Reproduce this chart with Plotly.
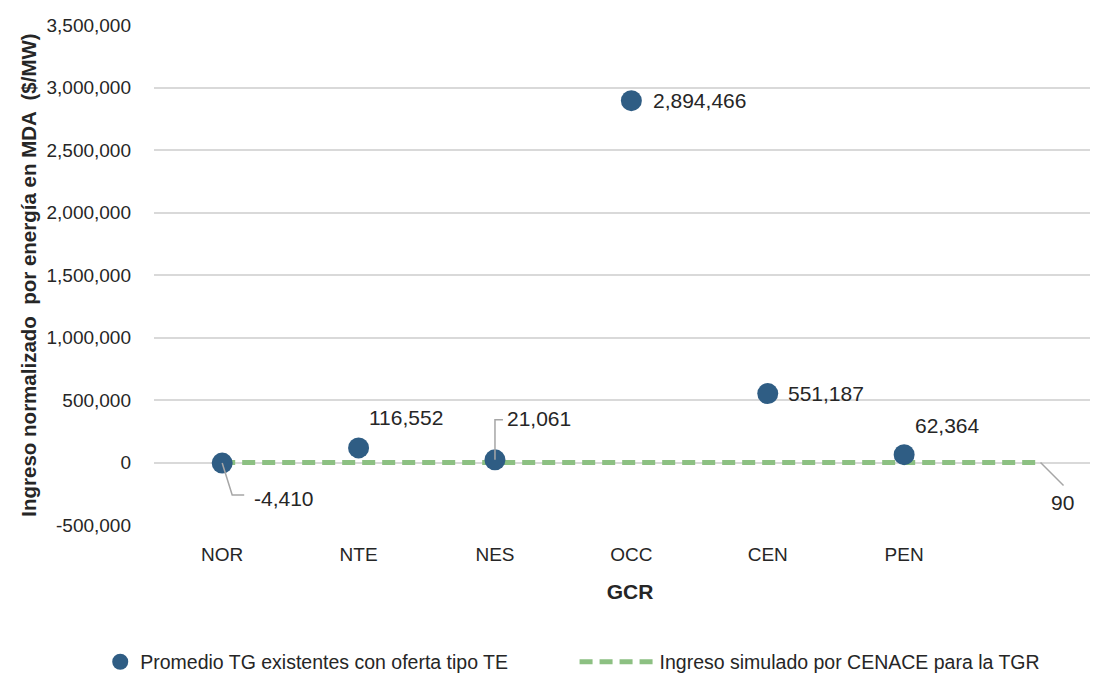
import plotly.graph_objects as go

categorias = ["NOR", "NTE", "NES", "OCC", "CEN", "PEN"]
promedio_tg = [-4410, 116552, 21061, 2894466, 551187, 62364]
ingreso_tgr = 90
y_ticks = [-500000, 0, 500000, 1000000, 1500000, 2000000, 2500000, 3000000, 3500000]

FONT = "Liberation Sans, Arial, sans-serif"
TXT = "#262626"
GRIS = "#a6a6a6"

x_pos = list(range(len(categorias)))
linea_x = [0, len(categorias)]
linea_y = [ingreso_tgr, ingreso_tgr]

fig = go.Figure()

fig.add_trace(go.Scatter(
    x=linea_x, y=linea_y, mode="lines",
    line=dict(color="#8cc082", width=5, dash="13px,7px"),
    name="Ingreso simulado por CENACE para la TGR", legend="legend2",
))
fig.add_trace(go.Scatter(
    x=x_pos, y=promedio_tg, mode="markers",
    marker=dict(color="#2f5d84", size=21),
    name="Promedio TG existentes con oferta tipo TE", legend="legend",
))

# etiquetas de datos: (xshift, yshift, lineas guia en pixeles)
etiquetas = [
    (30, -35, "M0,0 L10,-32 L22,-32"),
    (47, 30, None),
    (10, 41, "M0,0 L0,40 L8,40"),
    (20, 0, None),
    (18, 0, None),
    (43, 29, None),
]
for i, (v, (dx, dy, guia)) in enumerate(zip(promedio_tg, etiquetas)):
    left = guia is not None or dy == 0
    fig.add_annotation(x=i, y=v, text=f"{v:,}", showarrow=False,
                       xshift=dx, yshift=dy, xanchor="left" if left else "center",
                       font=dict(size=21, color=TXT, family=FONT))
    if guia:
        fig.add_shape(type="path", path=guia, xref="x", yref="y",
                      xsizemode="pixel", ysizemode="pixel", xanchor=i, yanchor=v,
                      line=dict(color=GRIS, width=1.5), layer="above")

fig.add_annotation(x=linea_x[1], y=ingreso_tgr, text=f"{ingreso_tgr:,}", showarrow=False,
                   xshift=22, yshift=-40, font=dict(size=21, color=TXT, family=FONT))
fig.add_shape(type="path", path="M0,0 L23,-23", xref="x", yref="y",
              xsizemode="pixel", ysizemode="pixel", xanchor=linea_x[1], yanchor=ingreso_tgr,
              line=dict(color=GRIS, width=1.5), layer="above")

fig.update_layout(
    width=1098, height=675,
    margin=dict(l=146, r=0, t=17, b=158),
    plot_bgcolor="white", paper_bgcolor="white",
    font=dict(family=FONT, size=19, color=TXT),
    showlegend=True,
    legend=dict(orientation="h", xref="container", x=0.084, xanchor="left",
                yref="container", y=0.031, yanchor="middle",
                font=dict(size=19.5, color=TXT)),
    legend2=dict(orientation="h", xref="container", x=0.516, xanchor="left",
                 yref="container", y=0.031, yanchor="middle", itemwidth=75,
                 font=dict(size=19.5, color=TXT)),
)
fig.update_xaxes(
    range=[-0.5, 6.48], tickvals=x_pos, ticktext=categorias,
    showgrid=False, zeroline=False, showline=False, ticks="",
    ticklabelstandoff=16, automargin=False,
    tickfont=dict(size=19, color=TXT),
    title=dict(text="<b>GCR</b>", font=dict(size=21, color=TXT), standoff=20),
)
fig.update_yaxes(
    range=[-500000, 3500000], tickvals=y_ticks,
    ticktext=[f"{v:,}" for v in y_ticks],
    showgrid=True, gridcolor="#d9d9d9", gridwidth=1.5,
    zeroline=True, zerolinecolor="#d9d9d9", zerolinewidth=1.5,
    ticks="", ticklabelstandoff=22, automargin=False,
    tickfont=dict(size=19, color=TXT),
    title=dict(text="<b>Ingreso normalizado  por energía en MDA  ($/MW)</b>",
               font=dict(size=20.5, color=TXT), standoff=4),
)

fig.write_html("out.html")
